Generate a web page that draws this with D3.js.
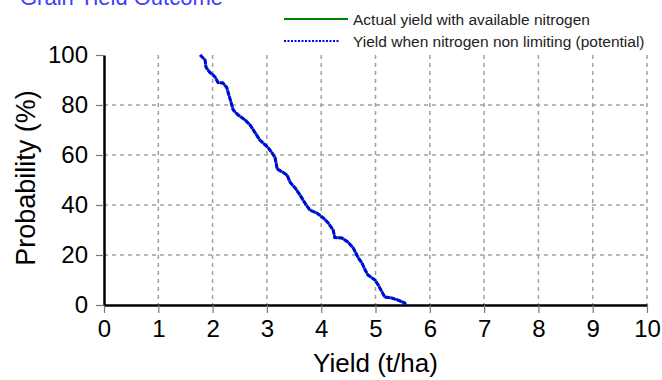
<!DOCTYPE html>
<html>
<head>
<meta charset="utf-8">
<script src="https://cdn.jsdelivr.net/npm/d3@7"></script>
<style>
  body { margin: 0; background: #fff; }
  svg { display: block; font-family: "Liberation Sans", Arial, sans-serif; }
</style>
</head>
<body>
<div id="chart"></div>
<script>
// Probability of exceedance (%)
const probability = [100, 98, 95, 93, 92, 91, 89, 88.8, 87, 84, 81, 78, 76, 74, 72, 69, 66, 63, 61, 59,
  54.4, 53, 52, 49, 46.8, 44, 40.8, 38, 36.8, 34.8, 32.8, 30, 27, 26.8, 25.2, 22.8, 19, 16.8, 14, 12,
  10, 8, 5.2, 3.2, 2.8, 2, 0.8, 0];

// Actual yield with available nitrogen (t/ha)
const actualYield = [1.77, 1.86, 1.88, 1.95, 2.01, 2.05, 2.10, 2.19, 2.26, 2.30, 2.34, 2.38, 2.47, 2.60, 2.69, 2.78, 2.87, 3.02, 3.09, 3.15,
  3.19, 3.30, 3.37, 3.43, 3.52, 3.61, 3.70, 3.79, 3.92, 4.04, 4.13, 4.22, 4.25, 4.38, 4.49, 4.59, 4.68, 4.75, 4.81, 4.86,
  4.99, 5.05, 5.12, 5.17, 5.30, 5.41, 5.54, 5.55];

// Yield when nitrogen non limiting (t/ha)
const potentialYield = [1.77, 1.86, 1.88, 1.95, 2.01, 2.05, 2.10, 2.19, 2.26, 2.30, 2.34, 2.38, 2.47, 2.60, 2.69, 2.78, 2.87, 3.02, 3.09, 3.15,
  3.19, 3.30, 3.37, 3.43, 3.52, 3.61, 3.70, 3.79, 3.92, 4.04, 4.13, 4.22, 4.25, 4.38, 4.49, 4.59, 4.68, 4.75, 4.81, 4.86,
  4.99, 5.05, 5.12, 5.17, 5.30, 5.41, 5.54, 5.55];

const xTicks = [0, 1, 2, 3, 4, 5, 6, 7, 8, 9, 10];
const yTicks = [0, 20, 40, 60, 80, 100];

const width = 662;
const height = 380;
const margin = { top: 55, right: 15, bottom: 75, left: 104 };

const svg = d3.select('#chart')
  .append('svg')
  .attr('width', width)
  .attr('height', height);

const xScale = d3.scaleLinear()
  .domain([0, 10])
  .range([margin.left, width - margin.right]);

const yScale = d3.scaleLinear()
  .domain([0, 100])
  .range([height - margin.bottom, margin.top]);

// Title (cut off at the top like the original)
svg.append('text')
  .attr('x', 20)
  .attr('y', 5)
  .attr('fill', '#3d3dff')
  .style('font-size', '22px')
  .text('Grain Yield Outcome');

// Gridlines
const grid = svg.append('g').attr('class', 'grid');
grid.selectAll('line.v')
  .data(xTicks.filter((d) => d > 0))
  .join('line')
  .attr('class', 'v')
  .attr('x1', (d) => xScale(d))
  .attr('x2', (d) => xScale(d))
  .attr('y1', yScale(100))
  .attr('y2', yScale(0));

grid.selectAll('line.h')
  .data(yTicks.filter((d) => d > 0 && d < 100))
  .join('line')
  .attr('class', 'h')
  .attr('x1', xScale(0))
  .attr('x2', xScale(10))
  .attr('y1', (d) => yScale(d))
  .attr('y2', (d) => yScale(d));

grid.selectAll('line')
  .attr('stroke', '#a0a0a0')
  .attr('stroke-width', 1.5)
  .attr('stroke-dasharray', '4,4');

// Axes
const xAxis = d3.axisBottom(xScale).tickValues(xTicks).tickSize(8).tickSizeOuter(0).tickPadding(7);
const yAxis = d3.axisLeft(yScale).tickValues(yTicks).tickSize(8).tickSizeOuter(0).tickPadding(8);

const gx = svg.append('g')
  .attr('transform', `translate(0, ${yScale(0)})`)
  .call(xAxis);

const gy = svg.append('g')
  .attr('transform', `translate(${xScale(0)}, 0)`)
  .call(yAxis);

[gx, gy].forEach((g) => {
  g.select('.domain').attr('stroke', '#000').attr('stroke-width', 2.5);
  g.selectAll('.tick line').attr('stroke', '#777').attr('stroke-width', 1.2);
  g.selectAll('.tick text')
    .attr('fill', '#000')
    .style('font-size', '24px')
    .style('font-family', '"Liberation Sans", Arial, sans-serif');
});

// Axis titles
svg.append('text')
  .attr('x', xScale(5))
  .attr('y', 372)
  .attr('text-anchor', 'middle')
  .style('font-size', '26px')
  .text('Yield (t/ha)');

svg.append('text')
  .attr('transform', `translate(35, ${yScale(50) - 2}) rotate(-90)`)
  .attr('text-anchor', 'middle')
  .style('font-size', '27px')
  .text('Probability (%)');

// Lines
const line = d3.line()
  .x((d) => xScale(d[0]))
  .y((d) => yScale(d[1]));

svg.append('path')
  .datum(d3.zip(actualYield, probability))
  .attr('fill', 'none')
  .attr('stroke', '#008000')
  .attr('stroke-width', 2.5)
  .attr('d', line);

svg.append('path')
  .datum(d3.zip(potentialYield, probability))
  .attr('fill', 'none')
  .attr('stroke', '#0000ff')
  .attr('stroke-width', 3)
  .attr('stroke-dasharray', '5,1')
  .attr('d', line);

// Legend
const legend = svg.append('g');
const legendItems = [
  { label: 'Actual yield with available nitrogen', color: '#008000', dash: null, y: 19 },
  { label: 'Yield when nitrogen non limiting (potential)', color: '#0000ff', dash: '2,1.5', y: 41 },
];
legendItems.forEach((item) => {
  legend.append('line')
    .attr('x1', 284)
    .attr('x2', item.dash ? 340 : 348)
    .attr('y1', item.y)
    .attr('y2', item.y)
    .attr('stroke', item.color)
    .attr('stroke-width', 2.2)
    .attr('stroke-dasharray', item.dash);
  legend.append('text')
    .attr('x', 353)
    .attr('y', item.y + 5.5)
    .attr('fill', '#222')
    .style('font-size', '15.5px')
    .text(item.label);
});
</script>
</body>
</html>
